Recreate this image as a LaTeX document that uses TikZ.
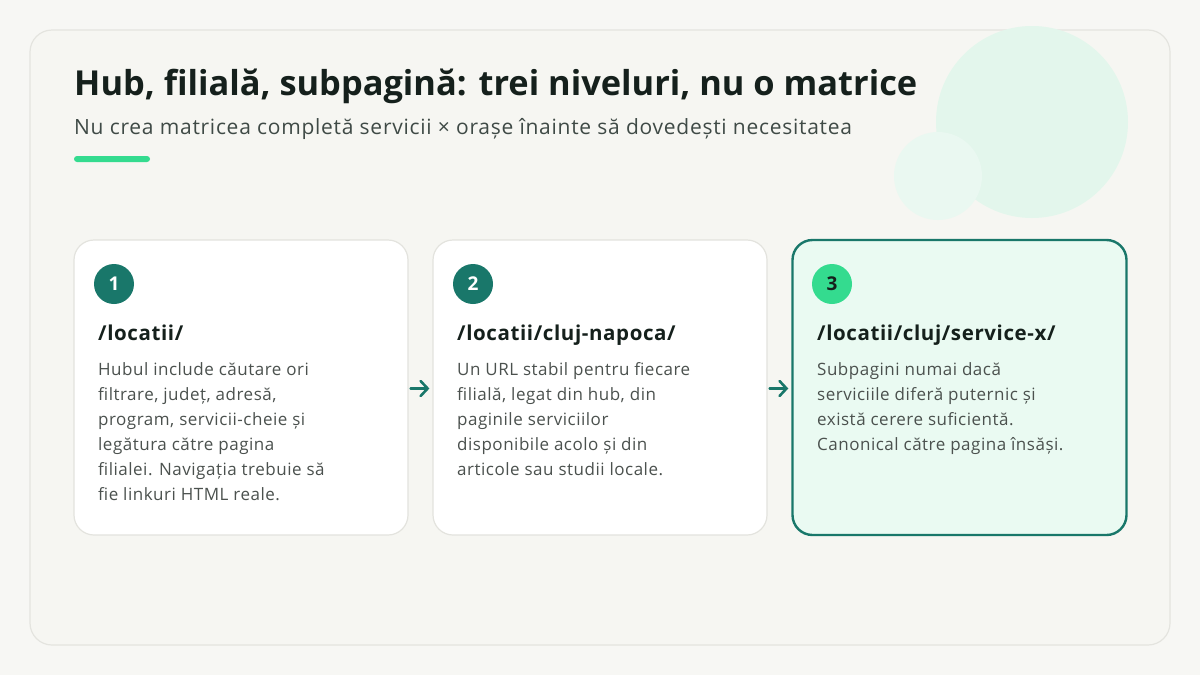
\documentclass[tikz,border=0pt]{standalone}
\usepackage{fontspec}
\setmainfont{Open Sans}
\usetikzlibrary{arrows.meta}
\definecolor{pagebg}{HTML}{F7F7F4}
\definecolor{panelbg}{HTML}{F6F6F2}
\definecolor{panelline}{HTML}{E4E4DF}
\definecolor{cardline}{HTML}{E3E3DE}
\definecolor{teal}{HTML}{19776A}
\definecolor{mint}{HTML}{34DB8F}
\definecolor{mintbg}{HTML}{EAFAF2}
\definecolor{bigcirc}{HTML}{E3F6EC}
\definecolor{smallcirc}{HTML}{EAF8F1}
\definecolor{ink}{HTML}{15201C}
\definecolor{subink}{HTML}{3F4A46}
\definecolor{bodyink}{HTML}{4B514E}
\tikzset{
  card/.style={draw=cardline, line width=1.2pt, fill=white, rounded corners=20pt, minimum width=334pt, minimum height=295pt, inner sep=0pt},
  hicard/.style={draw=teal, line width=2.4pt, fill=mintbg, rounded corners=20pt, minimum width=334pt, minimum height=295pt, inner sep=0pt},
  badge/.style={circle, fill=teal, minimum size=40pt, inner sep=0pt, text=white, font=\fontsize{19}{19}\selectfont\bfseries},
  hibadge/.style={badge, fill=mint, text=ink},
  head/.style={anchor=base west, inner sep=0pt, text=ink, font=\fontsize{20.5}{22}\selectfont\bfseries\addfontfeature{LetterSpace=3}},
  body/.style={anchor=north west, inner sep=0pt, align=left, text=bodyink, font=\fontsize{17}{25}\selectfont\addfontfeature{LetterSpace=3}},
  arr/.style={draw=teal, line width=2.6pt, line cap=round, -{Straight Barb[length=7pt,width=15pt,line cap=round]}}
}
\begin{document}
\begin{tikzpicture}[x=1pt,y=-1pt]
\useasboundingbox (0,0) rectangle (1200,675);
\fill[pagebg] (0,0) rectangle (1200,675);
\draw[panelline, fill=panelbg, line width=1.2pt, rounded corners=22pt] (30,30) rectangle (1170,645);
\fill[bigcirc] (1032,122) circle (96);
\fill[smallcirc] (938,176) circle (44);
\node[anchor=base west, inner sep=0pt, text=ink, font=\fontsize{34.4}{40}\selectfont\bfseries] (title) at (74,95) {Hub, filială, subpagină: trei niveluri, nu o matrice};
\node[anchor=base west, inner sep=0pt, text=subink, font=\fontsize{21}{24}\selectfont\addfontfeature{LetterSpace=3.5}] (sub) at (74,134) {Nu crea matricea completă servicii × orașe înainte să dovedești necesitatea};
\fill[mint, rounded corners=3pt] (74,156) rectangle (150,162);
\node[card] (c1) at (241,387.5) {};
\node[card] (c2) at (600,387.5) {};
\node[hicard] (c3) at (959.5,387.5) {};
\node[badge] (b1) at (114,284) {1};
\node[badge] (b2) at (473,284) {2};
\node[hibadge] (b3) at (832,284) {3};
\node[head] (h1) at (98,340) {/locatii/};
\node[head] (h2) at (457,340) {/locatii/cluj-napoca/};
\node[head] (h3) at (817,340) {/locatii/cluj/service-x/};
\node[body] (t1) at (98,362) {Hubul include căutare ori\\filtrare, județ, adresă,\\program, servicii-cheie și\\legătura către pagina\\filialei. Navigația trebuie să\\fie linkuri HTML reale.};
\node[body] (t2) at (457,362) {Un URL stabil pentru fiecare\\filială, legat din hub, din\\paginile serviciilor\\disponibile acolo și din\\articole sau studii locale.};
\node[body] (t3) at (817,362) {Subpagini numai dacă\\serviciile diferă puternic și\\există cerere suficientă.\\Canonical către pagina însăși.};
\draw[arr] ([xshift=2pt,yshift=-1pt]c1.east) -- ([xshift=-3pt,yshift=-1pt]c2.west);
\draw[arr] ([xshift=2pt,yshift=-1pt]c2.east) -- ([xshift=-3pt,yshift=-1pt]c3.west);
\end{tikzpicture}
\end{document}
